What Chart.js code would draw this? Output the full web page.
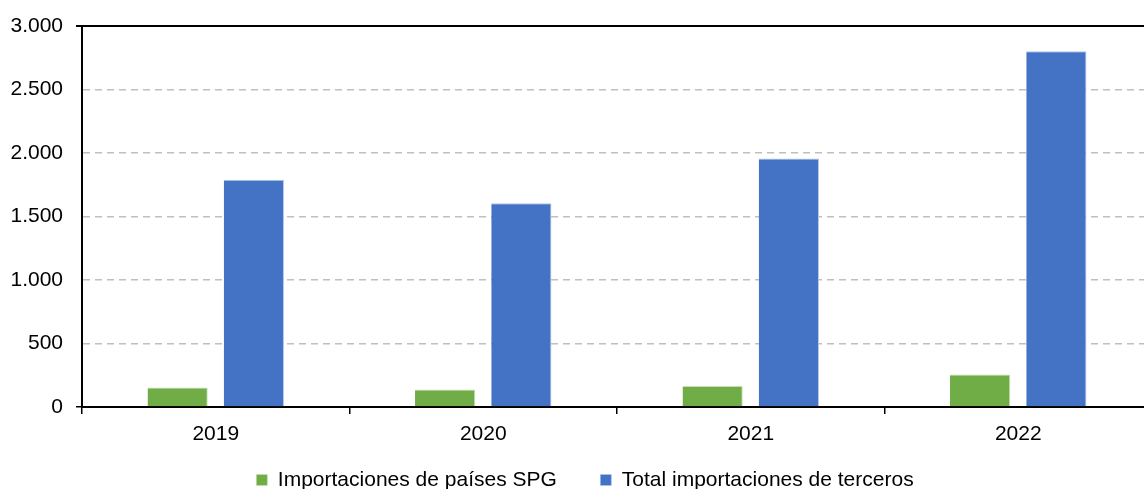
<!DOCTYPE html>
<html>
<head>
<meta charset="utf-8">
<script src="https://cdn.jsdelivr.net/npm/chart.js@4.4.0/dist/chart.umd.min.js"></script>
<style>
  html, body { margin: 0; padding: 0; background: #fff; overflow: hidden; }
  #wrap { position: relative; width: 1152px; height: 489px; }
</style>
</head>
<body>
<div id="wrap"><canvas id="chart"></canvas></div>
<script>
  // ---- data ----
  const years = ["2019", "2020", "2021", "2022"];
  const spgImports = [154, 137, 166, 256];
  const thirdImports = [1789, 1605, 1957, 2802];
  const seriesLabels = ["Importaciones de países SPG", "Total importaciones de terceros"];
  const yTicks = [0, 500, 1000, 1500, 2000, 2500, 3000];

  const FONT = "'Liberation Sans', Arial, sans-serif";
  const fmt = (v) => v.toLocaleString("de-DE");
  const isEdge = (c) => c.tick && (c.tick.value === 0 || c.tick.value === 3000);

  // legend box height and draw offset
  const X_AXIS_H = 46;
  const LEGEND_H = 36;
  const LEGEND_DX = 9;
  const LEGEND_DY = -27;

  new Chart(document.getElementById("chart"), {
    type: "bar",
    data: {
      labels: years,
      datasets: [
        {
          label: seriesLabels[0],
          data: spgImports,
          backgroundColor: "#70ad47",
          borderColor: "#c5e0b4",
          borderWidth: { top: 1, left: 0, right: 1, bottom: 0 },
          categoryPercentage: 0.57,
          barPercentage: 0.79
        },
        {
          label: seriesLabels[1],
          data: thirdImports,
          backgroundColor: "#4472c4",
          borderColor: "#b4c7e7",
          borderWidth: { top: 1, left: 0, right: 1, bottom: 0 },
          categoryPercentage: 0.57,
          barPercentage: 0.79
        }
      ]
    },
    options: {
      responsive: true,
      maintainAspectRatio: false,
      animation: false,
      layout: { padding: { top: 26, left: 0, right: 0, bottom: 0 } },
      scales: {
        x: {
          offset: true,
          grid: {
            offset: true,
            display: true,
            drawOnChartArea: false,
            drawTicks: true,
            tickLength: 7,
            color: "#000",
            lineWidth: 1.5
          },
          border: { display: true, color: "#000", width: 2 },
          ticks: {
            color: "#000",
            font: { family: FONT, size: 21 },
            padding: 8
          },
          afterFit: (s) => { s.height = X_AXIS_H; }
        },
        y: {
          min: 0,
          max: 3000,
          afterBuildTicks: (s) => { s.ticks = yTicks.map((v) => ({ value: v })); },
          grid: {
            color: (c) => (isEdge(c) ? "rgba(0,0,0,0)" : "#bfbfbf"),
            tickColor: (c) => (isEdge(c) ? "#000" : "rgba(0,0,0,0)"),
            tickLength: 6,
            lineWidth: 1.5,
            drawTicks: true
          },
          border: { display: true, color: "#000", width: 2, dash: [7, 5] },
          ticks: {
            color: "#000",
            font: { family: FONT, size: 21 },
            padding: 13,
            callback: (v) => fmt(v)
          },
          afterFit: (s) => { s.width = 82; }
        }
      },
      plugins: {
        legend: {
          position: "bottom",
          labels: {
            color: "#000",
            font: { family: FONT, size: 21 },
            boxWidth: 11,
            boxHeight: 11,
            padding: 43.5
          }
        },
        tooltip: { enabled: false }
      }
    },
    plugins: [{
      id: "legendTweak",
      beforeLayout(chart) {
        const lg = chart.legend;
        if (!lg || lg._tweaked) return;
        const fit = lg.fit;
        lg.fit = function () { fit.call(this); this.height = LEGEND_H; };
        const draw = lg.draw;
        lg.draw = function () {
          const top = this.top;
          this.top = top + LEGEND_DY;
          this.ctx.save();
          this.ctx.translate(LEGEND_DX, 0);
          draw.call(this);
          this.ctx.restore();
          this.top = top;
        };
        lg._tweaked = true;
      }
    }, {
      id: "topBorder",
      afterDraw(chart) {
        const { ctx, chartArea } = chart;
        ctx.save();
        ctx.strokeStyle = "#000";
        ctx.lineWidth = 2;
        ctx.beginPath();
        ctx.moveTo(chartArea.left - 6, chartArea.top);
        ctx.lineTo(chartArea.right, chartArea.top);
        ctx.stroke();
        ctx.restore();
      }
    }]
  });
</script>
</body>
</html>
